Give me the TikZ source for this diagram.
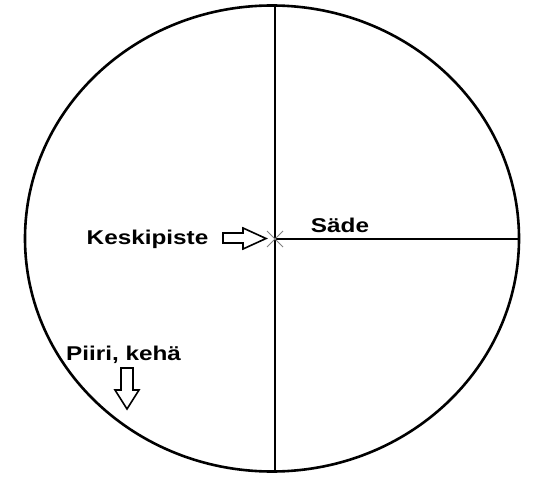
\documentclass[tikz,border=0pt]{standalone}
\usepackage{fontspec}
\newfontfamily\merkki[FakeStretch=1.22]{Liberation Sans}
\begin{document}
\begin{tikzpicture}[x=1bp, y=-1bp,
    teksti/.style={font=\merkki\bfseries\fontsize{20}{24}\selectfont, inner sep=0pt, anchor=base},
    nuoli/.style={draw=black, line width=1.6bp, fill=white, line join=miter}]
    \useasboundingbox (0,0) rectangle (546,480);

    % Ympyrä ja halkaisija
    \draw[line width=2.6bp] (272,238.5) ellipse (247 and 233);
    \coordinate (keski) at (275,239);
    \coordinate (ylä) at (275,6);
    \coordinate (ala) at (275,471);
    \coordinate (reuna) at (519,239);
    \draw[line width=2bp] (ylä) -- (ala);
    \draw[line width=2bp] (keski) -- (reuna);

    % Keskipisteen rasti
    \draw[gray, line width=0.8bp] (267,231) -- (283,247) (267,247) -- (283,231);

    % Tekstit
    \node[teksti] (keskipiste) at (147.5,244) {Keskipiste};
    \node[teksti] (sade) at (340,232) {Säde};
    \node[teksti] (piiri) at (123.5,360) {Piiri, kehä};

    % Nuolet
    \draw[nuoli] (223,233) -- (243,233) -- (243,228) -- (266,238.5) -- (243,249) -- (243,243) -- (223,243) -- cycle;
    \draw[nuoli] (121,368) -- (133,368) -- (133,390) -- (139,390) -- (127,409) -- (115,390) -- (121,390) -- cycle;
\end{tikzpicture}
\end{document}
